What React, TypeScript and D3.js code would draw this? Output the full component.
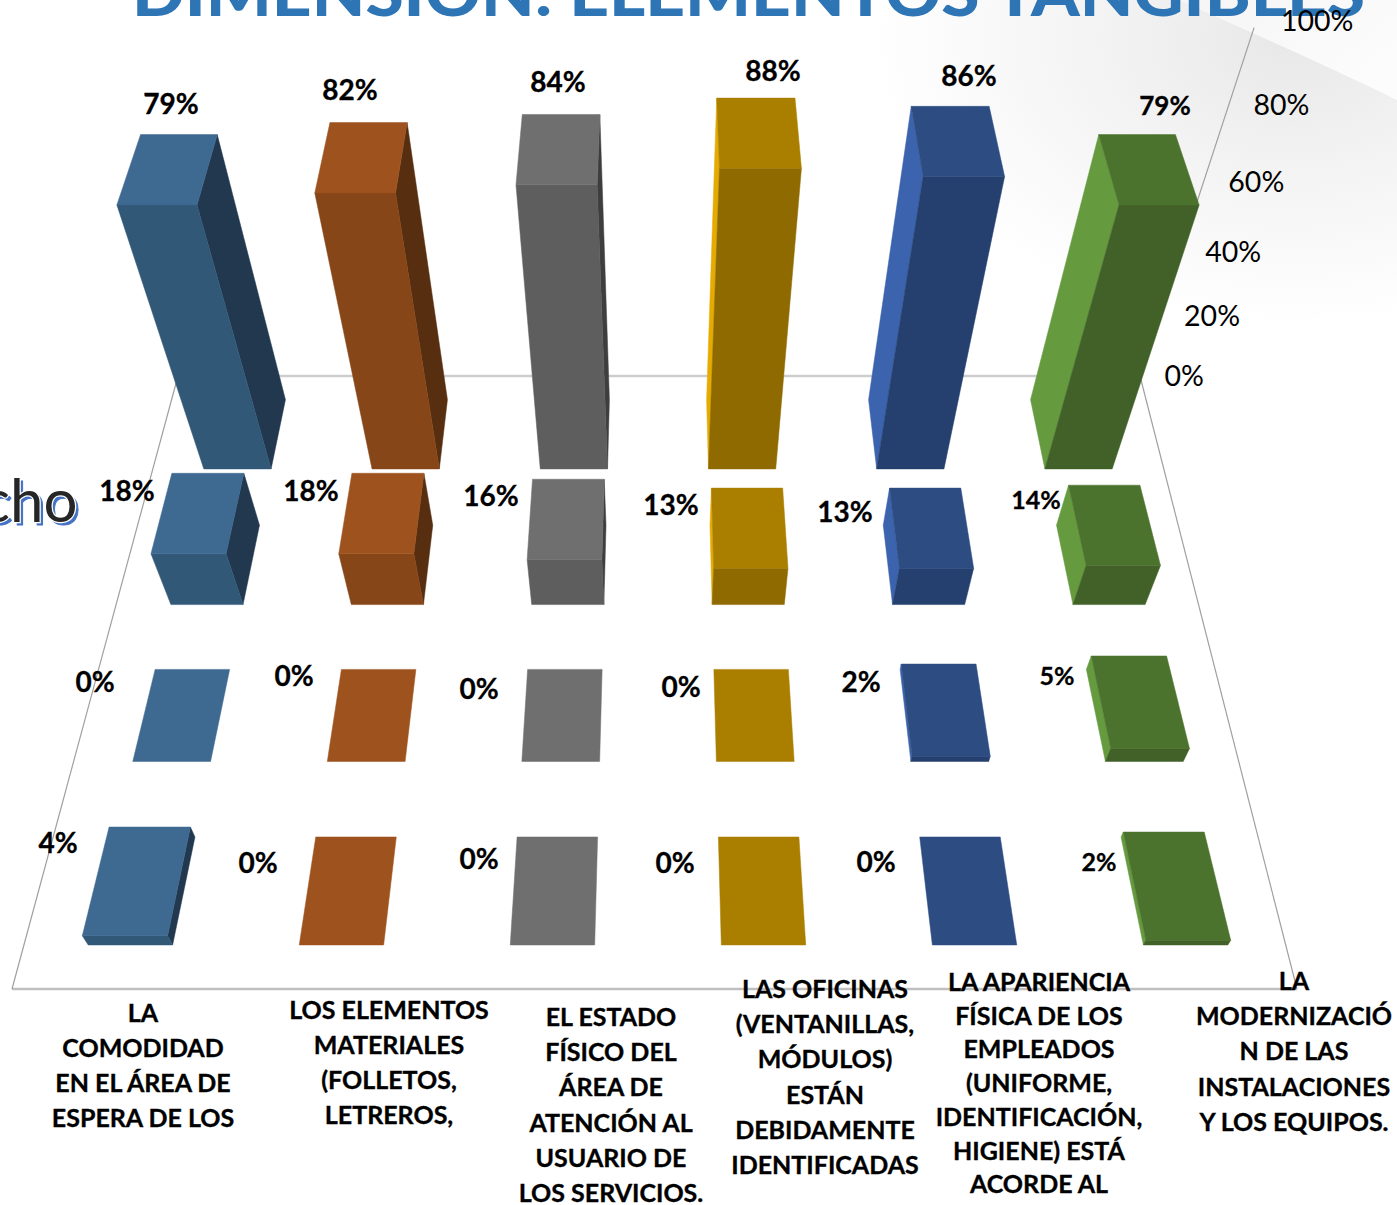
import React from "react";
import * as d3 from "d3";

const W = 1397;
const H = 1205;

// Percentages per depth row, front row first, one entry per category.
const rowFront = [4, 0, 0, 0, 0, 2];
const rowSecond = [0, 0, 0, 0, 2, 5];
const rowThird = [18, 18, 16, 13, 13, 14];
const rowBack = [79, 82, 84, 88, 86, 79];
const rows = [rowFront, rowSecond, rowThird, rowBack];

const axisTicks = [0, 20, 40, 60, 80, 100];

const categoryLines = [
  ["LA", "COMODIDAD", "EN EL ÁREA DE", "ESPERA DE LOS"],
  ["LOS ELEMENTOS", "MATERIALES", "(FOLLETOS,", "LETREROS,"],
  ["EL ESTADO", "FÍSICO DEL", "ÁREA DE", "ATENCIÓN AL", "USUARIO DE", "LOS SERVICIOS."],
  ["LAS OFICINAS", "(VENTANILLAS,", "MÓDULOS)", "ESTÁN", "DEBIDAMENTE", "IDENTIFICADAS"],
  ["LA APARIENCIA", "FÍSICA DE LOS", "EMPLEADOS", "(UNIFORME,", "IDENTIFICACIÓN,", "HIGIENE) ESTÁ", "ACORDE AL"],
  ["LA", "MODERNIZACIÓ", "N DE LAS", "INSTALACIONES", "Y LOS EQUIPOS."],
];
const categoryCentre = [143, 389, 611, 825, 1039, 1294];
const categoryFirstLine = [1013, 1010, 1017, 989, 982, 981];
const categoryLineStep = [35, 35, 35.2, 35.2, 33.7, 35.2];

// Face colours per category: lid, front, side.
const lidColors = ["#3E6991", "#9E531F", "#6F6F6F", "#AA7F00", "#2C4C82", "#4C732D"];
const frontColors = ["#325878", "#864618", "#5E5E5E", "#8E6A00", "#25406E", "#416128"];
const sideColors = ["#21384F", "#572E10", "#3E3E3E", "#E5AB00", "#3C63AD", "#659A3F"];

// Screen anchors of the value labels, one row per depth row.
const labelX = [
  [58, 258, 479, 675, 876, 1099],
  [95, 294, 479, 681, 861, 1057],
  [127, 311, 491, 671, 845, 1036],
  [171, 350, 558, 773, 969, 1165],
];
const labelY = [
  [843, 863, 859, 863, 862, 862],
  [682, 676, 689, 687, 682, 676],
  [491, 491, 496, 505, 512, 500],
  [104, 90, 82, 71, 76, 106],
];
const labelSize = [
  [28, 28, 28, 28, 28, 25],
  [28, 28, 28, 28, 28, 25],
  [28, 28, 28, 28, 28, 25],
  [28, 28, 28, 28, 28, 26],
];

// Perspective camera of the 3-D plot. Depth runs 0..1 across the floor, height 0..1 over 0..100%.
const camera = { cx: 658, colUnit: 215, y0: 989, ny: -483.3, nh: -480.4, pd: 0.345, qh: 0.26 };
const denom = (d: number, h: number) => 1 + camera.pd * d - camera.qh * h;
const screenX = (col: number, d: number, h: number) => camera.cx + col * camera.colUnit / denom(d, h);
const screenY = (d: number, h: number) => (camera.y0 + camera.ny * d + camera.nh * h) / denom(d, h);

// Category position on the floor, centred on the plot.
const colScale = d3.scaleLinear().domain([0, 5]).range([-2.5, 2.5]);
const heightScale = d3.scaleLinear().domain([0, 100]).range([0, 1]);
// Depth of each row's front edge.
const rowDepth = d3.scaleLinear().domain([0, 3]).range([0.0544, 0.8062]);
const barDepth = 0.1425;
const barHalfWidth = 0.2;

const poly = d3.line<[number, number]>().curve(d3.curveLinearClosed);

function Bar({ row, col, value }: { row: number; col: number; value: number }) {
  const u = colScale(col);
  const d0 = rowDepth(row);
  const d1 = d0 + barDepth;
  const h = heightScale(value);
  const l = u - barHalfWidth;
  const r = u + barHalfWidth;
  const pt = (c: number, d: number, z: number): [number, number] => [screenX(c, d, z), screenY(d, z)];

  const lid = [pt(l, d0, h), pt(r, d0, h), pt(r, d1, h), pt(l, d1, h)];
  const front = [pt(l, d0, 0), pt(r, d0, 0), pt(r, d0, h), pt(l, d0, h)];
  const sideCol = u < 0 ? r : l;
  const side = [pt(sideCol, d0, 0), pt(sideCol, d1, 0), pt(sideCol, d1, h), pt(sideCol, d0, h)];

  const face = (points: [number, number][], color: string) => (
    <path d={poly(points) ?? ""} fill={color} stroke={color} strokeWidth={0.5} />
  );
  return (
    <g>
      {value > 0 && face(side, sideColors[col])}
      {value > 0 && face(front, frontColors[col])}
      {face(lid, lidColors[col])}
    </g>
  );
}

export default function App() {
  // Floor corners of the plot box.
  const floor = { fl: [12, 989], fr: [1297, 989], bl: [178, 376], br: [1140, 376] };
  const axisOffset = (floor.br[0] - camera.cx) * (1 + camera.pd) / camera.colUnit;
  const font = "Lato, 'Open Sans', sans-serif";

  return (
    <svg
      width={W}
      height={H}
      viewBox={`0 0 ${W} ${H}`}
      style={{ position: "absolute", left: 0, top: 0, background: "#fff" }}
    >
      <defs>
        <radialGradient id="sheen" gradientUnits="userSpaceOnUse" cx={1290} cy={40} r={420} gradientTransform="translate(1290 40) scale(1 0.68) translate(-1290 -40)">
          <stop offset="0" stopColor="#e8e8e8" />
          <stop offset="0.45" stopColor="#f3f3f3" />
          <stop offset="1" stopColor="#ffffff" />
        </radialGradient>
        <linearGradient id="sheenUpper" x1="0" y1="0" x2="1" y2="0.6">
          <stop offset="0" stopColor="#f5f5f5" />
          <stop offset="1" stopColor="#fcfcfc" />
        </linearGradient>
      </defs>

      {/* Slide background sweep in the upper right */}
      <path d="M870,0 L1180,0 C1250,32 1320,62 1397,100 L1397,400 L870,400 Z" fill="url(#sheen)" />
      <path d="M1180,0 C1250,32 1320,62 1397,100 L1397,0 Z" fill="url(#sheenUpper)" />

      {/* Slide title, cut by the top edge */}
      <text
        x={132}
        y={15.5}
        fontFamily={font}
        fontWeight={900}
        fontSize={62}
        fill="#2E75B6"
        textLength={1233}
        lengthAdjust="spacingAndGlyphs"
      >
        DIMENSION:  ELEMENTOS TANGIBLES
      </text>

      {/* Floor and vertical axis */}
      <line x1={floor.bl[0]} y1={floor.bl[1]} x2={floor.br[0]} y2={floor.br[1]} stroke="#cdcdcd" strokeWidth={2.5} />
      <line x1={floor.fl[0]} y1={floor.fl[1]} x2={floor.fr[0]} y2={floor.fr[1]} stroke="#bfbfbf" strokeWidth={2.5} />
      <line x1={floor.fl[0]} y1={floor.fl[1]} x2={floor.bl[0]} y2={floor.bl[1]} stroke="#a0a0a0" strokeWidth={1.2} />
      <line x1={floor.fr[0]} y1={floor.fr[1]} x2={floor.br[0]} y2={floor.br[1]} stroke="#a0a0a0" strokeWidth={1.2} />
      <line
        x1={screenX(axisOffset, 1, 0)}
        y1={screenY(1, 0)}
        x2={screenX(axisOffset, 1, 0.99)}
        y2={screenY(1, 0.99)}
        stroke="#a0a0a0"
        strokeWidth={1.2}
      />

      {/* Fragment of the neighbouring slide text */}
      <text x={80.5} y={524.5} textAnchor="end" fontFamily={font} fontSize={60} fill="#4472C4" stroke="#4472C4" strokeWidth={1}>
        cho
      </text>
      <text x={77.5} y={522} textAnchor="end" fontFamily={font} fontSize={60} fill="#262626" stroke="#fff" strokeWidth={2.5} paintOrder="stroke">
        cho
      </text>

      {/* Bars, drawn from the back row to the front */}
      {d3.range(rows.length - 1, -1, -1).map((r) =>
        rows[r].map((v, c) => <Bar key={`${r}-${c}`} row={r} col={c} value={v} />)
      )}

      {/* Axis tick labels */}
      {axisTicks.map((t) => {
        const h = heightScale(t);
        return (
          <text
            key={t}
            x={screenX(axisOffset, 1, h) + 24.5 + 1 * h}
            y={screenY(1, h) + 10 - 2 * h}
            fontFamily={font}
            fontSize={28.5}
            fill="#000"
          >
            {t}%
          </text>
        );
      })}

      {/* Value labels */}
      {rows.map((vals, r) =>
        vals.map((v, c) => (
          <text
            key={`l${r}-${c}`}
            x={labelX[r][c]}
            y={labelY[r][c]}
            dy="0.36em"
            textAnchor="middle"
            fontFamily={font}
            fontWeight={700}
            fontSize={labelSize[r][c]}
            fill="#000"
            stroke="#000"
            strokeWidth={0.3}
          >
            {v}%
          </text>
        ))
      )}

      {/* Category labels */}
      {categoryLines.map((lines, c) =>
        lines.map((line, i) => (
          <text
            key={`c${c}-${i}`}
            x={categoryCentre[c]}
            y={categoryFirstLine[c] + i * categoryLineStep[c]}
            dy="0.36em"
            textAnchor="middle"
            fontFamily={font}
            fontWeight={700}
            fontSize={25}
            fill="#000"
            stroke="#000"
            strokeWidth={0.35}
          >
            {line}
          </text>
        ))
      )}
    </svg>
  );
}
